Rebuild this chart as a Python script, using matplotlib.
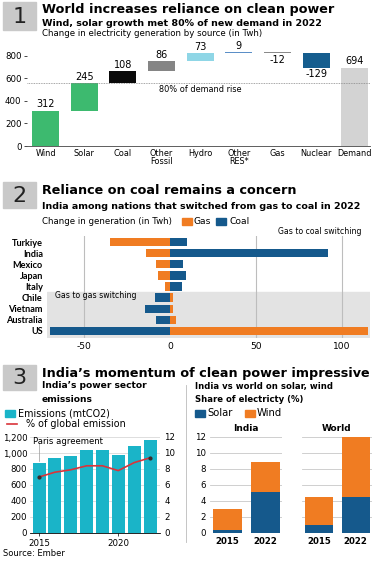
"""India / world clean power infographic"""
import numpy as np
import matplotlib
matplotlib.use("Agg")
import matplotlib.pyplot as plt
from matplotlib.patches import Rectangle

plt.rcParams['font.family'] = ['DejaVu Sans']
plt.rcParams['axes.unicode_minus'] = False

# ---- data ----
# 1: waterfall
sources = ["Wind", "Solar", "Coal", "Other\nFossil", "Hydro", "Other\nRES*", "Gas", "Nuclear", "Demand"]
changes = [312, 245, 108, 86, 73, 9, -12, -129, 694]
src_colors = ["#3dba6f", "#3dba6f", "#0a0a0a", "#858585", "#8fd6e6", "#5b8fc7", "#8a8a8a", "#155d8e", "#d3d3d3"]

# 2: gas to coal switching
countries = ["Turkiye", "India", "Mexico", "Japan", "Italy", "Chile", "Vietnam", "Australia", "US"]
gas_change = [-35, -14, -8, -7, -3, 1.5, 2, 3.5, 115]
coal_change = [10, 92, 7.5, 9.5, 7, -8.5, -14.5, -8, -70]

# 3a: India power sector emissions
years = [2015, 2016, 2017, 2018, 2019, 2020, 2021, 2022]
emissions = [874, 937, 966, 1037, 1037, 974, 1087, 1162]
share_global = [7.0, 7.6, 7.9, 8.4, 8.4, 7.8, 8.8, 9.4]

# 3b: solar / wind share
share_years = ["2015", "2022"]
india_solar = [0.4, 5.1]
india_wind = [2.6, 3.8]
world_solar = [1.0, 4.5]
world_wind = [3.5, 7.5]

W, H = 374, 561
ORANGE = "#f07c22"
BLUE = "#15598c"
CYAN = "#1ab4c8"
TITLE_FS = 9.2
SUB_FS = 6.8
SMALL_FS = 6.2
TICK_FS = 6.2


def box(x0, y0, x1, y1):
    return [x0 / W, 1 - y1 / H, (x1 - x0) / W, (y1 - y0) / H]


def txt(x, y, s, **kw):
    kw.setdefault("va", "center")
    fig.text(x / W, 1 - y / H, s, **kw)


def square(x, y, color, w=10, h=7):
    fig.patches.append(Rectangle((x / W, 1 - (y + h / 2) / H), w / W, h / H,
                                 transform=fig.transFigure, color=color))


def header(num, y0, y1):
    fig.patches.append(Rectangle((3 / W, 1 - y1 / H), 33 / W, (y1 - y0) / H,
                                 transform=fig.transFigure, color="#c9c9c9"))
    txt(19.5, (y0 + y1) / 2 + 1, num, ha="center", fontsize=16, color="#222")


fig = plt.figure(figsize=(W / 100, H / 100), dpi=100)

# ---------------- section 1 ----------------
header("1", 2, 30)
txt(42, 10, "World increases reliance on clean power", fontsize=TITLE_FS, fontweight="bold")
txt(42, 23, "Wind, solar growth met 80% of new demand in 2022", fontsize=SUB_FS, fontweight="bold")
txt(42, 34, "Change in electricity generation by source (in Twh)", fontsize=SMALL_FS)

ax1 = fig.add_axes(box(27, 50, 370, 146))
x = np.arange(len(sources))
cum = 0
for i, v in enumerate(changes):
    if i == len(changes) - 1:
        bottom, top = 0, v
    else:
        bottom, top = cum, cum + v
        cum += v
    ax1.bar(i, top - bottom, bottom=bottom, width=0.7, color=src_colors[i])
    if v >= 0:
        ax1.text(i, max(top, bottom) + 12, str(v), ha="center", va="bottom", fontsize=7)
    else:
        ax1.text(i, min(top, bottom) - 12, str(v), ha="center", va="top", fontsize=7)
demand80 = 0.8 * changes[-1]
ax1.axhline(demand80, color="#888", lw=0.6, ls=(0, (1, 1)))
ax1.text(4, demand80 - 18, "80% of demand rise", ha="center", va="top", fontsize=5.9)
ax1.set_ylim(0, 850)
ax1.set_xlim(-0.48, 8.39)
ax1.set_yticks([0, 200, 400, 600, 800])
ax1.set_xticks(x)
ax1.set_xticklabels(sources, fontsize=5.9, linespacing=0.95)
ax1.tick_params(axis="y", labelsize=TICK_FS, length=2, width=0.5, pad=2)
ax1.tick_params(axis="x", length=0, pad=2)
for s in ["top", "right", "left"]:
    ax1.spines[s].set_visible(False)
ax1.spines["bottom"].set_linewidth(0.6)
ax1.spines["bottom"].set_color("#444")

# ---------------- section 2 ----------------
header("2", 182, 208)
txt(42, 191, "Reliance on coal remains a concern", fontsize=TITLE_FS, fontweight="bold")
txt(42, 207, "India among nations that switched from gas to coal in 2022", fontsize=SUB_FS, fontweight="bold")
txt(42, 221, "Change in generation (in Twh)", fontsize=SMALL_FS)
square(182, 221, ORANGE)
txt(194, 221, "Gas", fontsize=6.6)
square(216, 221, BLUE)
txt(229, 221, "Coal", fontsize=6.6)

ax2 = fig.add_axes(box(47, 236, 370, 338))
y = np.arange(len(countries))
ax2.axhspan(4.5, 8.7, color="#e3e3e3", zorder=0)
for gx in [-50, 50, 100]:
    ax2.axvline(gx, color="#bdbdbd", lw=0.8, zorder=1)
ax2.barh(y, gas_change, height=0.75, color=ORANGE, zorder=2)
ax2.barh(y, coal_change, height=0.75, color=BLUE, zorder=2)
ax2.set_ylim(8.63, -0.54)
ax2.set_xlim(-71.5, 116.3)
ax2.set_yticks(y)
ax2.set_yticklabels(countries, fontsize=7.7, fontweight="bold", family=["Lato", "DejaVu Sans"])
ax2.set_xticks([-50, 0, 50, 100])
ax2.tick_params(length=0, labelsize=6.6, pad=3)
ax2.tick_params(axis="y", pad=3)
for s in ax2.spines.values():
    s.set_visible(False)
ax2.text(-67, 4.85, "Gas to gas switching", fontsize=5.6, va="center")
txt(362, 232, "Gas to coal switching", fontsize=5.6, ha="right")

# ---------------- section 3 ----------------
header("3", 365, 390)
txt(42, 373, "India\u2019s momentum of clean power impressive", fontsize=TITLE_FS, fontweight="bold")
txt(42, 386, "India\u2019s power sector", fontsize=6.6, fontweight="bold")
txt(42, 399, "emissions", fontsize=6.6, fontweight="bold")
square(5, 413, CYAN)
txt(18, 413, "Emissions (mtCO2)", fontsize=6.9)
fig.lines.append(plt.Line2D([7 / W, 17 / W], [1 - 424 / H, 1 - 424 / H],
                            transform=fig.transFigure, color="#d9343a", lw=1.2))
txt(26, 424, "% of global emission", fontsize=6.9)

ax3 = fig.add_axes(box(30, 433, 160, 533))
ax3.bar(years, emissions, width=0.82, color=CYAN, zorder=2)
ax3.set_ylim(0, 1250)
ax3.set_xlim(2014.43, 2022.63)
ax3.set_yticks([0, 200, 400, 600, 800, 1000, 1200])
ax3.set_yticklabels(["0", "200", "400", "600", "800", "1,000", "1,200"])
ax3.yaxis.grid(True, color="#d0d0d0", lw=0.5, zorder=0)
ax3.set_axisbelow(True)
ax3.set_xticks([2015, 2020])
ax3.tick_params(labelsize=TICK_FS, length=0, pad=2)
ax3.tick_params(axis="x", length=2, width=0.5)
for s in ["top", "right", "left"]:
    ax3.spines[s].set_visible(False)
ax3.spines["bottom"].set_linewidth(0.6)
ax3.plot([2015, 2015], [900, 1120], color="#999", lw=0.5, zorder=3)
ax3.text(2014.6, 1140, "Paris agreement", fontsize=6.1, va="center", zorder=4)
ax3r = ax3.twinx()
ax3r.plot(years, share_global, color="#d9343a", lw=1.2, zorder=3)
ax3r.plot([years[0], years[-1]], [share_global[0], share_global[-1]], "o",
          color="#3a2a2a", ms=2, zorder=4)
ax3r.set_ylim(0, 12.5)
ax3r.set_yticks(range(0, 13, 2))
ax3r.tick_params(labelsize=TICK_FS, length=0, pad=3)
for s in ax3r.spines.values():
    s.set_visible(False)

# separator
fig.lines.append(plt.Line2D([186 / W, 186 / W], [1 - 385 / H, 1 - 542 / H],
                            transform=fig.transFigure, color="#bbb", lw=0.6))

txt(195, 386, "India vs world on solar, wind", fontsize=6.1, fontweight="bold")
txt(195, 399, "Share of electricty (%)", fontsize=6.1, fontweight="bold")
square(195, 413, BLUE)
txt(207, 413, "Solar", fontsize=7.2)
square(245, 413, ORANGE)
txt(257, 413, "Wind", fontsize=7.2)

for (x0, x1), name, solar, wind, show_y in [((210, 282), "India", india_solar, india_wind, True),
                                             ((302, 372), "World", world_solar, world_wind, False)]:
    ax = fig.add_axes(box(x0, 433, x1, 533))
    xs = np.arange(len(share_years))
    ax.bar(xs, solar, width=0.75, color=BLUE, zorder=2)
    ax.bar(xs, wind, bottom=solar, width=0.75, color=ORANGE, zorder=2)
    ax.set_ylim(0, 12.5)
    ax.set_xlim(-0.46, 1.44)
    ax.set_yticks(range(0, 13, 2))
    ax.yaxis.grid(True, color="#c8c8c8", lw=0.6, zorder=0)
    ax.set_xticks(xs)
    ax.set_xticklabels(share_years, fontsize=6.3, fontweight="bold")
    ax.tick_params(length=0, labelsize=TICK_FS, pad=3)
    if not show_y:
        ax.set_yticklabels([])
    for s in ax.spines.values():
        s.set_visible(False)
    ax.set_title(name, fontsize=6.5, fontweight="bold", pad=1)

txt(3, 553, "Source: Ember", fontsize=6)

fig.savefig("out.png", dpi=100)
